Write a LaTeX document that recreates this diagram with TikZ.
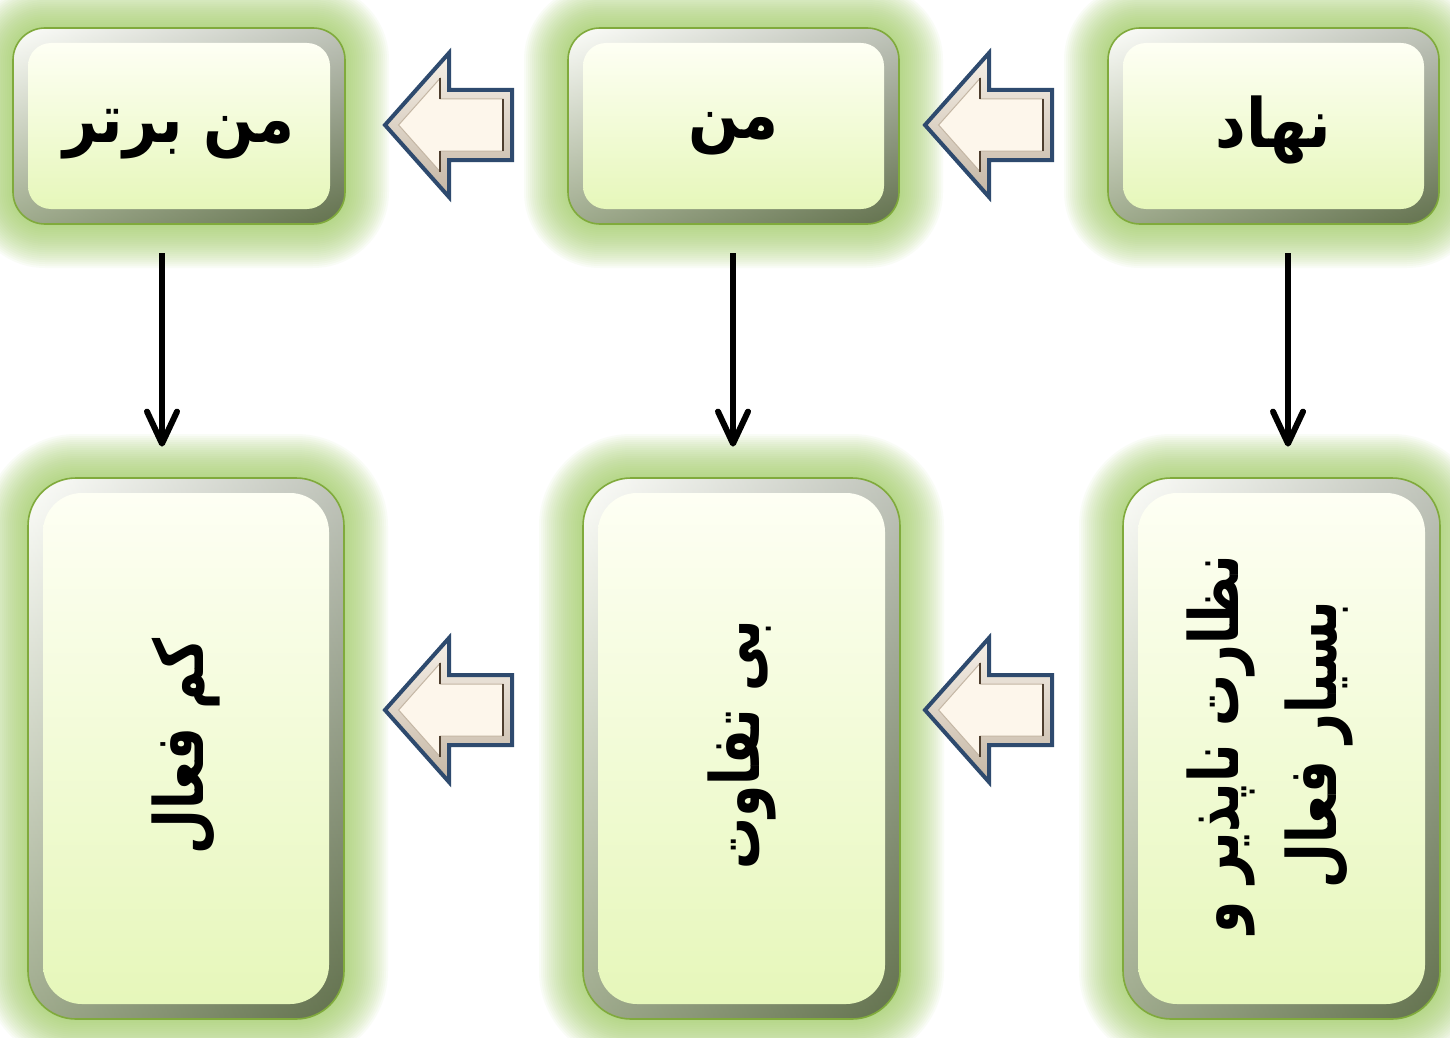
\documentclass[tikz,border=0pt]{standalone}
\usepackage{fontspec}
\newfontfamily\arabicfont[Script=Arabic, FakeStretch=0.88]{DejaVu Sans}
\newfontfamily\arabicnarrow[Script=Arabic, FakeStretch=0.76]{DejaVu Sans}
\TeXXeTstate=1
\usetikzlibrary{arrows.meta,fit}

\definecolor{halo}{RGB}{165,208,105}
\definecolor{rimline}{RGB}{128,170,60}
\definecolor{bevellight}{RGB}{252,253,248}
\definecolor{bevelmid}{RGB}{172,186,146}
\definecolor{beveldark}{RGB}{108,126,80}
\definecolor{bevelshade}{RGB}{80,90,72}
\definecolor{facetop}{RGB}{254,255,244}
\definecolor{facebottom}{RGB}{230,247,186}
\definecolor{arrowrim}{RGB}{46,74,110}
\definecolor{arrowface}{RGB}{253,246,235}
\definecolor{bevelhi}{RGB}{246,240,232}
\definecolor{bevello}{RGB}{196,182,164}
\definecolor{arrowdark}{RGB}{78,62,46}

% glowing bevelled box: name, x1, y1, x2, y2, corner radius (all in px)
\newcommand\glassbox[6]{%
  \foreach \g [evaluate=\g as \rr using (#6+\g)*0.5] in {2,4,...,44}{
    \fill[halo, opacity=0.06, rounded corners=\rr pt]
      (#2-\g,#3-\g) rectangle (#4+\g,#5+\g);
  }
  \pgfmathsetmacro\ro{#6*0.5}
  \pgfmathsetmacro\ri{(#6-9)*0.5}
  \shade[rounded corners=\ro pt, top color=bevellight, middle color=bevelmid, bottom color=beveldark]
    (#2,#3) rectangle (#4,#5);
  \shade[rounded corners=\ro pt, left color=white, right color=bevelshade, opacity=0.35]
    (#2,#3) rectangle (#4,#5);
  \shade[rounded corners=\ri pt, top color=facetop, bottom color=facebottom]
    (#2+15,#3+15) rectangle (#4-15,#5-15);
  \draw[rimline, line width=0.8pt, rounded corners=\ro pt] (#2,#3) rectangle (#4,#5);
  \node[fit={(#2,#3) (#4,#5)}, inner sep=0pt] (#1) {};
}

\tikzset{
  leftblock/.pic={
    \shade[top color=bevelhi, bottom color=bevello, draw=arrowrim, line width=2pt, line join=miter]
      (0,0) -- (64,-72) -- (64,-35) -- (127,-35) -- (127,35) -- (64,35) -- (64,72) -- cycle;
    \fill[arrowface, draw=bevello, line width=0.5pt]
      (13.6,0) -- (55,-46.6) -- (55,-26) -- (118,-26) -- (118,26) -- (55,26) -- (55,46.6) -- cycle;
    \draw[arrowdark, line width=0.9pt] (55,-46.6) -- (55,-26) (55,26) -- (55,46.6) (118,-26) -- (118,26);
  },
  darrow/.style={line width=3pt, -{Straight Barb[length=16pt,width=15pt,round]}},
  lbl/.style={font=\arabicfont\bfseries\fontsize{34}{49}\selectfont, align=center, inner sep=0pt, text=black},
  vlbl/.style={font=\arabicnarrow\bfseries\fontsize{34}{49}\selectfont, align=center, inner sep=0pt, text=black, rotate=90}
}

\begin{document}
\begin{tikzpicture}[x=0.5pt,y=-0.5pt]
\useasboundingbox (0,0) rectangle (1450,1038);
\fill[white] (0,0) rectangle (1450,1038);

% upper row
\glassbox{superego}{13}{28}{345}{224}{32}
\glassbox{ego}{568}{28}{899}{224}{32}
\glassbox{id}{1108}{28}{1439}{224}{32}
% lower row
\glassbox{passive}{28}{478}{344}{1019}{48}
\glassbox{indifferent}{583}{478}{900}{1019}{48}
\glassbox{active}{1123}{478}{1440}{1019}{48}

% labels
\node[lbl] (superego-t) at ([yshift=-4pt]superego.center) {\beginR من برتر\endR};
\node[lbl] (ego-t) at ([yshift=-4pt]ego.center) {\beginR من\endR};
\node[lbl] (id-t) at ([yshift=-2pt]id.center) {\beginR نهاد\endR};
\node[vlbl] (passive-t) at ([xshift=0pt,yshift=1pt]passive.center) {\beginR کم فعال\endR};
\node[vlbl] (indifferent-t) at ([xshift=0pt,yshift=2pt]indifferent.center) {\beginR بی تفاوت\endR};
\node[vlbl] (active-t) at ([xshift=-6pt,yshift=2pt]active.center)
  {\beginR نظارت ناپذیر و\endR\\\beginR بسیار فعال\endR};

% downward links
\draw[darrow] ([xshift=-8.5pt,yshift=-14.5pt]superego.south) -- ([xshift=-12pt,yshift=15.5pt]passive.north);
\draw[darrow] ([xshift=-0.25pt,yshift=-14.5pt]ego.south) -- ([xshift=-4.25pt,yshift=15.5pt]indifferent.north);
\draw[darrow] ([xshift=7.25pt,yshift=-14.5pt]id.south) -- ([xshift=3.25pt,yshift=15.5pt]active.north);

% block arrows between the boxes
\pic at (385,125) {leftblock};
\pic at (925,125) {leftblock};
\pic at (385,710) {leftblock};
\pic at (925,710) {leftblock};
\end{tikzpicture}
\end{document}
